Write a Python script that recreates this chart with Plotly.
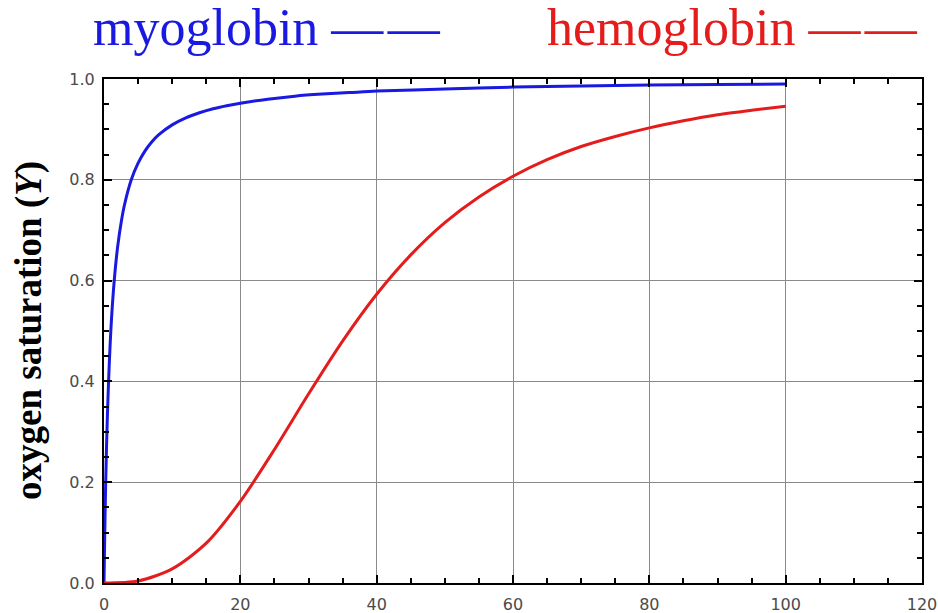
import plotly.graph_objects as go

# Values
myo_po2 = [0, 0.1, 0.25, 0.5, 1, 1.5, 2, 2.5, 3, 4, 5, 6, 7, 8, 10, 12, 14, 16, 18, 20,
           24, 28, 32, 36, 40, 50, 60, 70, 80, 90, 100]
myo_sat = [0, 0.09, 0.2, 0.333, 0.5, 0.6, 0.667, 0.714, 0.75, 0.8, 0.833, 0.857, 0.875, 0.889,
           0.909, 0.923, 0.933, 0.941, 0.947, 0.952, 0.960, 0.966, 0.970, 0.973, 0.976,
           0.980, 0.984, 0.986, 0.988, 0.989, 0.990]

hb_po2 = [0, 5, 10, 15, 20, 25, 30, 35, 40, 45, 50, 55, 60, 65, 70, 75, 80, 85, 90, 95, 100]
hb_sat = [0, 0.004, 0.028, 0.079, 0.162, 0.265, 0.375, 0.48, 0.573, 0.651, 0.715, 0.766, 0.807,
          0.840, 0.866, 0.886, 0.903, 0.917, 0.929, 0.938, 0.946]

x_ticks = [0, 20, 40, 60, 80, 100, 120]
y_ticks = [0.0, 0.2, 0.4, 0.6, 0.8, 1.0]
y_tick_text = ["0.0", "0.2", "0.4", "0.6", "0.8", "1.0"]

BLUE = "rgb(25,25,225)"
RED = "rgb(228,28,28)"

fig = go.Figure()
fig.add_trace(go.Scatter(x=myo_po2, y=myo_sat, mode="lines",
                         line=dict(color=BLUE, width=3, shape="spline", smoothing=0.8),
                         showlegend=False, cliponaxis=False))
fig.add_trace(go.Scatter(x=hb_po2, y=hb_sat, mode="lines",
                         line=dict(color=RED, width=3, shape="spline", smoothing=0.8),
                         showlegend=False, cliponaxis=False))

tickfont = dict(family="DejaVu Sans", size=16, color="#4a4a4a")

fig.update_xaxes(range=[0, 120], tickvals=x_ticks, ticktext=[str(v) for v in x_ticks],
                 showgrid=True, gridcolor="#8a8a8a", gridwidth=1,
                 showline=True, linecolor="black", linewidth=2, mirror="ticks",
                 ticks="inside", ticklen=8, tickcolor="black", tickwidth=1.5,
                 minor=dict(dtick=5, tick0=0, ticks="inside", ticklen=5, tickcolor="black",
                            tickwidth=1.5, showgrid=False),
                 zeroline=False, tickfont=tickfont, ticklabelstandoff=6,
                 ticklabeloverflow="allow", automargin=False)
fig.update_yaxes(range=[0, 1], tickvals=y_ticks, ticktext=y_tick_text,
                 showgrid=True, gridcolor="#8a8a8a", gridwidth=1,
                 showline=True, linecolor="black", linewidth=2, mirror="ticks",
                 ticks="inside", ticklen=8, tickcolor="black", tickwidth=1.5,
                 minor=dict(dtick=0.05, tick0=0, ticks="inside", ticklen=5, tickcolor="black",
                            tickwidth=1.5, showgrid=False),
                 zeroline=False, tickfont=tickfont, ticklabelstandoff=4, automargin=False)

serif = "Liberation Serif"
fig.add_annotation(xref="paper", yref="paper", x=-0.016, y=1.102, xanchor="left", yanchor="middle",
                   text="myoglobin \u2014\u200a\u2014", showarrow=False,
                   font=dict(family=serif, size=52, color=BLUE))
fig.add_annotation(xref="paper", yref="paper", x=0.539, y=1.102, xanchor="left", yanchor="middle",
                   text="hemoglobin \u2014\u200a\u2014", showarrow=False,
                   font=dict(family=serif, size=52, color=RED))
fig.add_annotation(xref="paper", yref="paper", x=0, xshift=-75, y=0.5, xanchor="center",
                   yanchor="middle", textangle=-90,
                   text="<b>oxygen saturation (<i>Y</i>)</b>", showarrow=False,
                   font=dict(family=serif, size=37, color="black"))

fig.update_layout(width=938, height=613, margin=dict(l=104, r=16, t=79, b=30, autoexpand=False),
                  plot_bgcolor="white", paper_bgcolor="white")

post = ("document.documentElement.style.margin='0';"
        "document.documentElement.style.overflow='hidden';"
        "document.body.style.margin='0';"
        "document.body.style.padding='0';"
        "document.body.style.overflow='hidden';")

fig.write_html("out.html", config={"displayModeBar": False}, post_script=post)
